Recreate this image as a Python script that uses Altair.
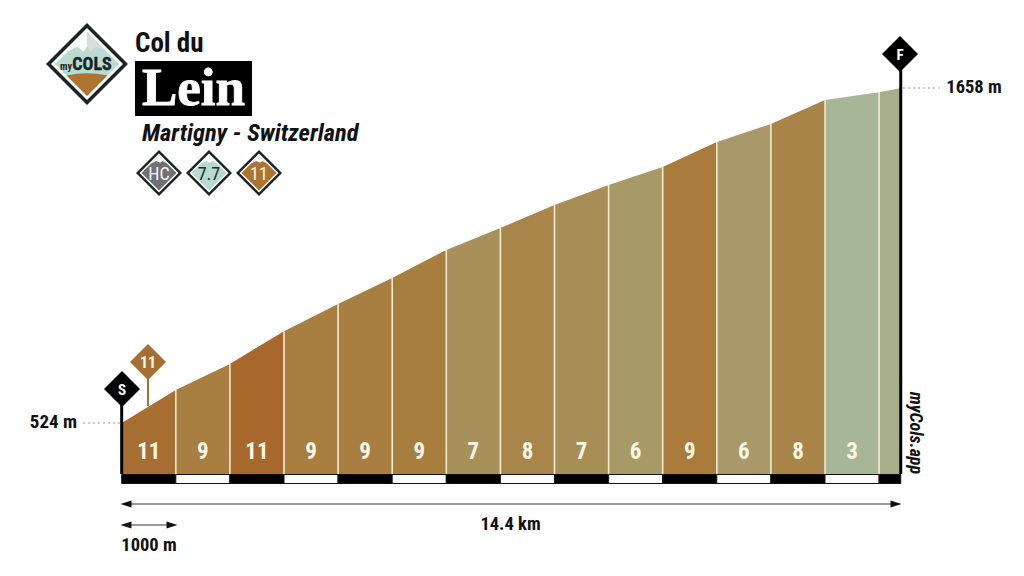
import altair as alt
import pandas as pd

# ---- values
start_elev, finish_elev = 524, 1658
dist_km = [0, 1, 2, 3, 4, 5, 6, 7, 8, 9, 10, 11, 12, 13, 14, 14.4]
elev_m = [524, 636, 724, 835, 927, 1015, 1110, 1184, 1262, 1330, 1391, 1475, 1536, 1617, 1644, 1658]
grade_labels = ["11", "9", "11", "9", "9", "9", "7", "8", "7", "6", "9", "6", "8", "3", ""]
seg_colors = ["#a66e31", "#a87e41", "#a7682c", "#a87d40", "#a97e41", "#a87e3f", "#a7905a", "#a8864a",
              "#a78d56", "#a89a66", "#a87b3c", "#a8986a", "#a88449", "#a8b698", "#a9ae8a"]
total_label = "14.4 km"
unit_label = "1000 m"

W, H = 1008, 560
PXKM = 54.1
X0 = 121.7
PXM = (423.0 - 88.0) / (finish_elev - start_elev)
xs = alt.Scale(domain=[(8 - X0) / PXKM, (8 + W - X0) / PXKM], nice=False, zero=False)
ys = alt.Scale(domain=[start_elev - (8 + H - 423) / PXM, start_elev + (423 - 8) / PXM], nice=False, zero=False)
NARROW = "Roboto Condensed"
one = alt.Data(values=[{"a": 1}])
layers = []


def px(v):
    return alt.value(v - 8)


def diamond(cx, cy, r, color):
    return alt.Chart(one).mark_point(shape="M-1,0L0,-1L1,0L0,1Z", size=4 * r * r, filled=True, fill=color,
                                     opacity=1, strokeWidth=0).encode(x=px(cx), y=px(cy))


def shape(cx, cy, r, path, color):
    return alt.Chart(one).mark_point(shape=path, size=4 * r * r, filled=True, fill=color,
                                     opacity=1, strokeWidth=0).encode(x=px(cx), y=px(cy))


def label(cx, cy, s, size, color="#111111", font=NARROW, weight="bold", align="center", **kw):
    return alt.Chart(alt.Data(values=[{"t": s}])).mark_text(
        font=font, fontSize=size, fontWeight=weight, color=color, align=align, baseline="middle", **kw
    ).encode(x=px(cx), y=px(cy), text="t:N")


def rule(x1, y1, x2, y2, color, w, **kw):
    return alt.Chart(one).mark_rule(color=color, strokeWidth=w, **kw).encode(
        x=px(x1), x2=px(x2), y=px(y1), y2=px(y2))


# ---- profile segments
rows = []
for i, c in enumerate(seg_colors):
    for j in (i, i + 1):
        rows.append({"seg": i, "km": dist_km[j], "elev": elev_m[j]})
prof = pd.DataFrame(rows)
X = alt.X("km:Q", scale=xs, axis=None)
Y = alt.Y("elev:Q", scale=ys, axis=None, stack=None)
layers.append(
    alt.Chart(prof).mark_area(interpolate="linear", opacity=1).encode(
        x=X, y=Y, y2=px(474),
        color=alt.Color("seg:N", legend=None,
                        scale=alt.Scale(domain=list(range(len(seg_colors))), range=seg_colors)))
)

# ---- separators between kilometres
seps = pd.DataFrame({"km": dist_km[1:-1], "elev": elev_m[1:-1]})
layers.append(alt.Chart(seps).mark_rule(color="#f3ead2", strokeWidth=1.6).encode(x=X, y=Y, y2=px(474)))

# ---- grade labels
mids = pd.DataFrame({"km": [(a + b) / 2 for a, b in zip(dist_km[:-1], dist_km[1:])], "t": grade_labels})
layers.append(alt.Chart(mids).mark_text(font=NARROW, fontWeight="bold", fontSize=23, color="#fbf6e6",
                                        baseline="middle").encode(x=X, y=px(452), text="t:N"))

# ---- scale band
band = pd.DataFrame({"km": dist_km[:-1], "km2": dist_km[1:],
                     "c": ["#000000" if i % 2 == 0 else "#ffffff" for i in range(15)]})
layers.append(alt.Chart(band).mark_rect(stroke="#111111", strokeWidth=1).encode(
    x=X, x2="km2:Q", y=px(474.5), y2=px(483.5), fill=alt.Fill("c:N", scale=None)))

# ---- poles
poles = pd.DataFrame({"km": [dist_km[0], dist_km[-1]]})
layers.append(alt.Chart(poles.iloc[[0]]).mark_rule(color="#000000", strokeWidth=3).encode(x=X, y=px(389), y2=px(474)))
layers.append(alt.Chart(poles.iloc[[1]]).mark_rule(color="#000000", strokeWidth=3).encode(x=X, y=px(54), y2=px(474)))
layers += [rule(148, 362, 148, 406, "#a66e31", 2)]
layers += [diamond(122, 389, 18, "#000000"), label(122, 389.5, "S", 15, "#ffffff")]
layers += [diamond(900, 54, 18, "#000000"), label(900, 54.5, "F", 15, "#ffffff")]
layers += [diamond(148, 362, 18, "#a66e31"), label(148, 362.5, "11", 16, "#fbf6e6")]

# ---- elevation call-outs
layers += [rule(83, 423, 120, 423, "#999999", 1, strokeDash=[2, 3]),
           rule(903, 88, 941, 88, "#999999", 1, strokeDash=[2, 3]),
           label(53.5, 421.5, f"{start_elev} m", 19),
           label(974, 86.5, f"{finish_elev} m", 18.5),
           label(915, 433, "myCols.app", 18, angle=90, fontStyle="italic")]

# ---- distance arrows
LEFT, RIGHT = "M-1,0L1,-0.65L1,0.65Z", "M1,0L-1,-0.65L-1,0.65Z"
layers += [rule(125, 504, 897, 504, "#333333", 1),
           shape(126, 504, 5.5, LEFT, "#111111"), shape(896, 504, 5.5, RIGHT, "#111111"),
           label(510.5, 523.5, total_label, 18.5),
           rule(125, 525, 173, 525, "#333333", 1),
           shape(126, 525, 5.5, LEFT, "#111111"), shape(172, 525, 5.5, RIGHT, "#111111"),
           label(149, 544.5, unit_label, 18.5)]

# ---- logo
layers += [diamond(87, 64, 41, "#1b2424"), diamond(87, 64, 36, "#ffffff"), diamond(87, 64, 32, "#b9dbd2"),
           shape(87, 64, 32, "M0,-1L0.62,-0.38L0.3,-0.55L0.12,-0.38L0,-0.55Z", "#dcdcdc"),
           shape(87, 64, 32, "M0,-1L-0.62,-0.38L-0.3,-0.55L-0.12,-0.38L0,-0.55Z", "#ffffff"),
           shape(87, 64, 32, "M-0.64,0.36Q0,0.22 0.64,0.36L0,1Z", "#ad7430"),
           label(66, 67, "my", 10, "#1b2424"),
           label(92, 65, "COLS", 18, "#1b2424", stroke="#1b2424", strokeWidth=0.4)]

# ---- title block
layers += [label(135, 43.5, "Col du", 27, align="left"),
           alt.Chart(one).mark_rect(color="#000000").encode(x=px(135), x2=px(252), y=px(61), y2=px(116)),
           label(142, 89, "Lein", 53, "#ffffff", font="Liberation Serif", align="left",
                 stroke="#ffffff", strokeWidth=0.8),
           label(142, 133.5, "Martigny - Switzerland", 24.5, align="left", fontStyle="italic")]

# ---- badges
for cx, col, txt, tc in [(159, "#6f7173", "HC", "#f5f5f5"), (209, "#b7d9cf", "7.7", "#1d2b2b"),
                         (259, "#ad7430", "11", "#fbf6e6")]:
    layers += [diamond(cx, 173, 23, "#1b2424"), diamond(cx, 173, 19.5, "#ffffff"), diamond(cx, 173, 17.5, col),
               shape(cx, 173, 17.5, "M0,-1L0.45,-0.55L0.2,-0.68L0.06,-0.58L-0.15,-0.68L-0.45,-0.55Z", "#ffffff"),
               label(cx, 175, txt, 18, tc, weight="normal")]

chart = alt.layer(*layers).properties(
    width=W, height=H, padding=0, autosize=alt.AutoSizeParams(type="none"),
    background="#ffffff",
).configure_view(stroke=None)

chart.save("out.html", embed_options={"renderer": "svg", "actions": False})
